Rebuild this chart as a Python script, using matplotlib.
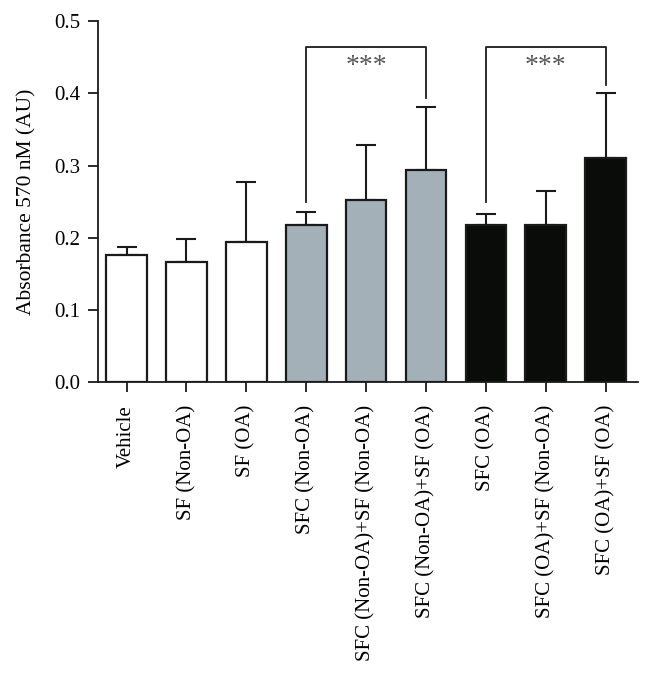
import matplotlib
matplotlib.use("Agg")
import matplotlib.pyplot as plt

categories = ["Vehicle", "SF (Non-OA)", "SF (OA)", "SFC (Non-OA)",
              "SFC (Non-OA)+SF (Non-OA)", "SFC (Non-OA)+SF (OA)",
              "SFC (OA)", "SFC (OA)+SF (Non-OA)", "SFC (OA)+SF (OA)"]
means = [0.176, 0.167, 0.194, 0.217, 0.252, 0.294, 0.217, 0.217, 0.310]
errors = [0.011, 0.031, 0.083, 0.018, 0.076, 0.087, 0.016, 0.048, 0.090]
groups = ["white", "white", "white", "grey", "grey", "grey", "black", "black", "black"]
# significance brackets: (left index, right index, top, left leg end, right leg end, label)
brackets = [(3, 5, 0.464, 0.249, 0.393, "***"),
            (6, 8, 0.464, 0.249, 0.411, "***")]

colors = {"white": "#ffffff", "grey": "#a3b0b8", "black": "#0a0c0a"}

plt.rcParams['font.family'] = ['Liberation Serif', 'DejaVu Serif']

fig = plt.figure(figsize=(6.52, 6.85), dpi=100)
ax = fig.add_axes([0.150, 0.4423, 0.8285, 0.5267])

x = list(range(len(categories)))
ax.bar(x, means, width=0.68, color=[colors[g] for g in groups],
       edgecolor="#1a1a1a", linewidth=1.6, zorder=2)
ax.errorbar(x, means, yerr=[[0]*len(errors), errors], fmt="none",
            ecolor="#1a1a1a", elinewidth=1.5, capsize=7, capthick=1.5, zorder=1)

for l, r, top, ly, ry, lab in brackets:
    ax.plot([l, l, r, r], [ly, top, top, ry], color="#1a1a1a", lw=1.3)
    ax.text((l + r) / 2, 0.428, lab, ha="center", va="baseline",
            fontsize=20, color="#555555")

ax.set_xlim(-0.48, 8.54)
ax.set_ylim(0, 0.5)
ax.set_yticks([0.0, 0.1, 0.2, 0.3, 0.4, 0.5])
ax.set_yticklabels(["0.0", "0.1", "0.2", "0.3", "0.4", "0.5"])
ax.set_xticks(x)
ax.set_xticklabels(categories, rotation=90)
ax.set_ylabel("Absorbance 570 nM (AU)", fontsize=15.5, labelpad=13)
ax.tick_params(axis="both", labelsize=15, width=1.3, length=7.5, direction="out",
               color="#1a1a1a")
ax.tick_params(axis="x", pad=9)
ax.tick_params(axis="y", pad=5)
ax.spines["top"].set_visible(False)
ax.spines["right"].set_visible(False)
for s in ["left", "bottom"]:
    ax.spines[s].set_linewidth(1.3)
    ax.spines[s].set_color("#1a1a1a")

fig.savefig("out.png", dpi=100)
